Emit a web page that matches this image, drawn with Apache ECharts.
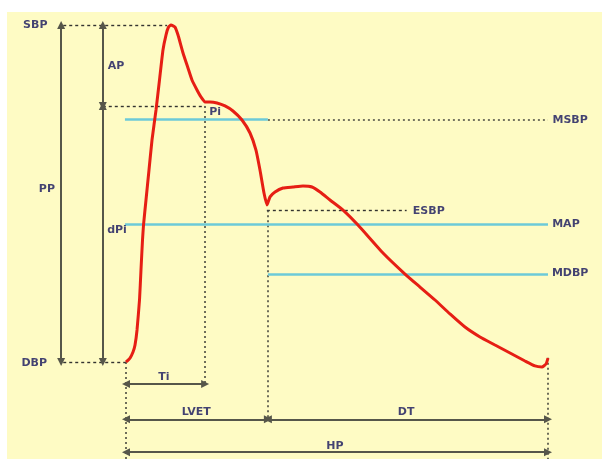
<!DOCTYPE html>
<html>
<head>
<meta charset="utf-8">
<script src="https://cdn.jsdelivr.net/npm/echarts@6/dist/echarts.min.js"></script>
<style>
html, body { margin: 0; padding: 0; background: #fff; }
#main { width: 602px; height: 459px; }
</style>
</head>
<body>
<div id="main"></div>
<script>
// pressure waveform: time (ms) / pressure (mmHg)
var waveTime = [0, 7.6, 13.3, 17.1, 20.9, 25.6, 28.4, 31.3, 33.2, 37.9, 43.6, 49.3, 56.9, 63.5, 70.1, 75.8,
    80.6, 85.3, 92.9, 98.6, 108.1, 117.5, 125.1, 134.6, 142.2, 149.8, 159.2, 172.5, 187.7, 202.8, 219.9,
    235.1, 246.4, 254, 261.6, 267.3, 273, 282.5, 297.6, 316.6, 335.5, 352.6, 367.8, 386.7, 411.4, 439.8,
    487.2, 528.9, 557.3, 585.8, 614.2, 642.6, 671.1, 699.5, 728, 756.4, 775.3, 788.6, 796.2, 800];
var wavePressure = [80, 80.47, 81.19, 82.02, 83.8, 87.36, 90.92, 94.48, 96.26, 99.23, 102.79, 106.35, 109.91,
    113.47, 117.03, 118.81, 119.76, 120, 119.76, 118.81, 116.68, 114.9, 113.47, 112.29, 111.45, 110.86,
    110.86, 110.74, 110.39, 109.79, 108.72, 107.18, 105.16, 102.79, 100.06, 98.64, 99.6, 100.18, 100.65,
    100.77, 100.89, 100.77, 100.18, 99.23, 98.04, 96.26, 92.94, 90.44, 88.9, 87.36, 85.7, 84.15, 82.97,
    82.02, 81.07, 80.12, 79.53, 79.41, 79.76, 80.47];

// pressure levels (mmHg)
var SBP = 120, PI = 110.4, MSBP = 108.8, ESBP = 98.0, MAP = 96.4, MDBP = 90.4, DBP = 80;
// time marks (ms)
var TI = 150, LVET = 269, HP = 800, NOTCH = 267;

// labels
var labelText = ['SBP', 'AP', 'Pi', 'PP', 'dPi', 'MSBP', 'ESBP', 'MAP', 'MDBP', 'DBP', 'Ti', 'LVET', 'DT', 'HP'];

// ---- layout (pixel mapping of the drawing) ----
var W = 602, H = 459;
var X0 = 126, PX_MS = 422 / 800;      // x pixel of t = 0, px per ms
var Y0 = 362, PX_MMHG = 337 / 40;     // y pixel of DBP, px per mmHg
var xMin = -X0 / PX_MS, xMax = (W - X0) / PX_MS;
var yMin = DBP - (H - Y0) / PX_MMHG, yMax = DBP + Y0 / PX_MMHG;

// annotation positions in data units
var tPP = -123, tAP = -44, tDash = -119, tEnd = 800;
var yTi = 77.4, yLvet = 73.2, yHp = 69.3;
var labelPos = [
    [-172, 120], [-19, 115.1], [169, 109.7], [-150, 100.5], [-17, 95.7], [842, 108.7], [574, 97.9],
    [834, 96.4], [842, 90.6], [-174, 79.9], [72, 78.2], [133, 74.1], [531, 74.1], [396, 70.0]
];

var arrows = [
    [[tPP, SBP], [tPP, DBP]],
    [[tAP, SBP], [tAP, PI]],
    [[tAP, PI], [tAP, DBP]],
    [[0, yTi], [TI, yTi]],
    [[0, yLvet], [LVET, yLvet]],
    [[LVET, yLvet], [HP, yLvet]],
    [[0, yHp], [HP, yHp]]
];
var dashes = [
    [[tDash, SBP], [78, SBP]],
    [[tAP, PI], [TI, PI]],
    [[tDash, DBP], [0, DBP]],
    [[NOTCH, ESBP], [532, ESBP]]
];
var dots = [
    [[LVET, MSBP], [tEnd, MSBP]],
    [[0, DBP], [0, yMin]],
    [[TI, PI], [TI, yTi]],
    [[LVET, ESBP], [LVET, yLvet]],
    [[HP, 80.5], [HP, yMin]]
];
var cyan = [
    [[-2, MSBP], [LVET, MSBP]],
    [[-2, MAP], [HP, MAP]],
    [[LVET, MDBP], [HP, MDBP]]
];

function segs(list) {
    return list.map(function (c) { return { coords: c }; });
}

var chart = echarts.init(document.getElementById('main'));
var option = {
    backgroundColor: '#ffffff',
    animation: false,
    graphic: [{
        type: 'rect', z: -10,
        shape: { x: 7, y: 12, width: W - 7, height: H - 12 },
        style: { fill: '#fefbc4' }
    }],
    grid: { left: 0, right: 0, top: 0, bottom: 0 },
    xAxis: { type: 'value', min: xMin, max: xMax, show: false },
    yAxis: { type: 'value', min: yMin, max: yMax, show: false },
    series: [
        {
            type: 'lines', coordinateSystem: 'cartesian2d', z: 1,
            lineStyle: { color: '#333330', width: 1.4, type: [3, 3], opacity: 1 },
            data: segs(dashes)
        },
        {
            type: 'lines', coordinateSystem: 'cartesian2d', z: 1,
            lineStyle: { color: '#4a4a40', width: 1.6, type: [2, 3], opacity: 1 },
            data: segs(dots)
        },
        {
            type: 'lines', coordinateSystem: 'cartesian2d', z: 2,
            lineStyle: { color: '#6ccad8', width: 2.6, opacity: 1 },
            data: segs(cyan)
        },
        {
            type: 'lines', coordinateSystem: 'cartesian2d', z: 3,
            symbol: ['triangle', 'triangle'], symbolSize: [8, 8],
            lineStyle: { color: '#56564a', width: 2, opacity: 1 },
            itemStyle: { color: '#222220' },
            data: segs(arrows)
        },
        {
            type: 'line', z: 4,
            data: waveTime.map(function (t, i) { return [t, wavePressure[i]]; }),
            showSymbol: false, smooth: 0.15,
            lineStyle: { color: '#e61e14', width: 3 }
        },
        {
            type: 'scatter', z: 5,
            symbolSize: 1,
            itemStyle: { color: 'transparent' },
            label: {
                show: true, position: 'inside',
                formatter: function (p) { return p.data[2]; },
                color: '#14145c', fontSize: 11, fontWeight: 'bold',
                fontFamily: 'DejaVu Sans'
            },
            data: labelText.map(function (s, i) { return [labelPos[i][0], labelPos[i][1], s]; })
        }
    ]
};
chart.setOption(option);
</script>
</body>
</html>
